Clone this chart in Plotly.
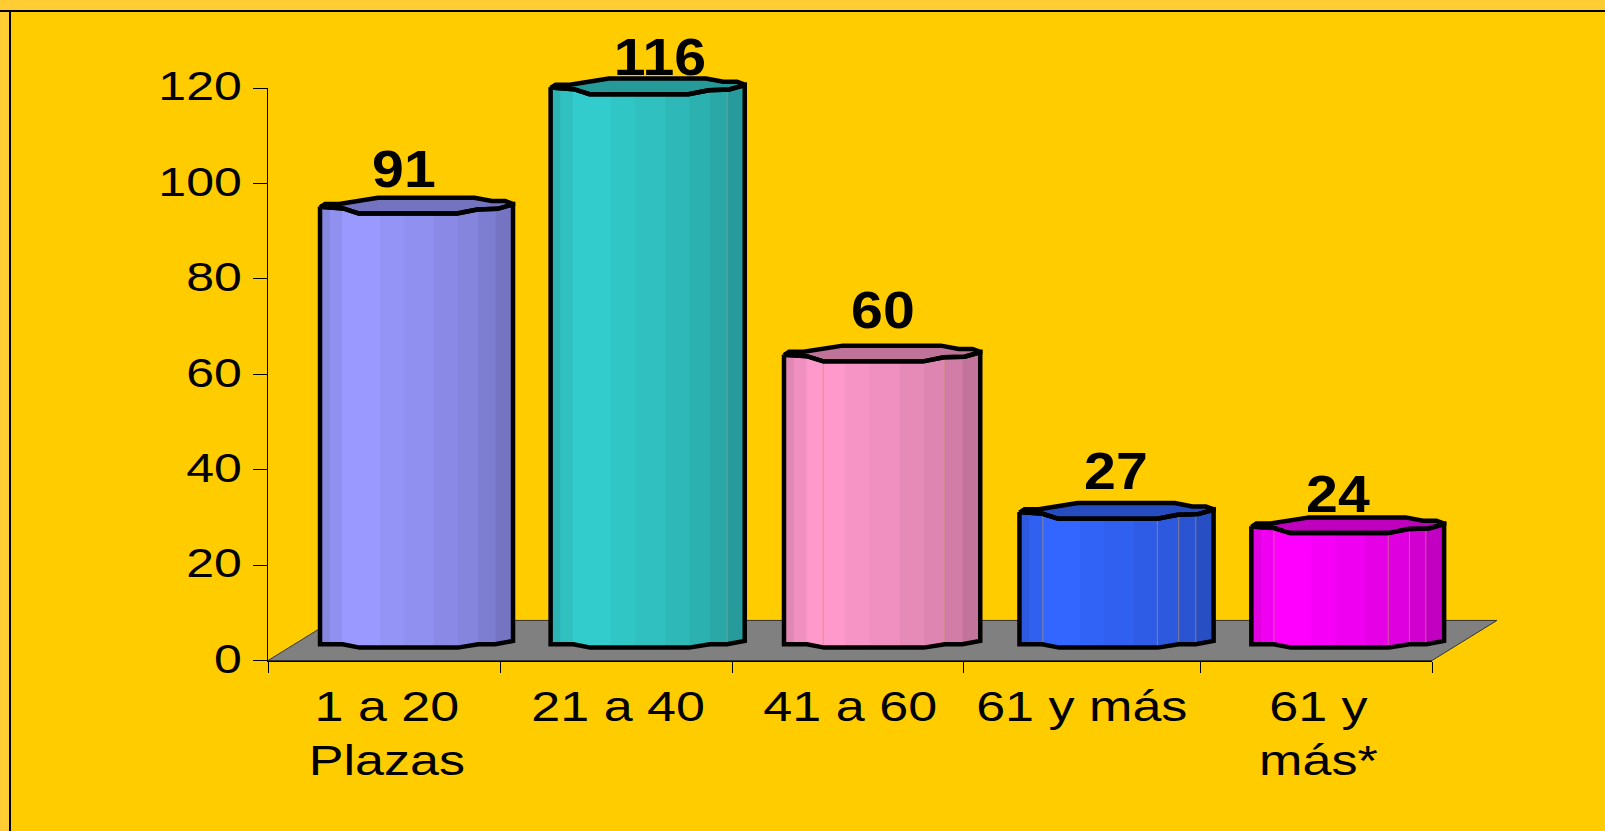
import numpy as np
import plotly.graph_objects as go

# ---- data ----
categories = ["1 a 20<br>Plazas", "21 a 40", "41 a 60", "61 y más", "61 y<br>más*"]
values = [91, 116, 60, 27, 24]
value_labels = ["91", "116", "60", "27", "24"]
y_ticks = [0, 20, 40, 60, 80, 100, 120]
tick_edges = [0, 0.997, 1.995, 2.987, 4.004, 5]
colors = ["#9999FF", "#33CCCC", "#FF99CC", "#3366FF", "#FF00FF"]
bar_centers = [0.638, 1.631, 2.638, 3.645, 4.638]
bar_widths = [0.829, 0.834, 0.843, 0.834, 0.828]
label_x = [0.584, 1.682, 2.64, 3.644, 4.597]
label_gap = [5.5, 3.9, 6.9, 6.2, 4.5]
label_nudge = [0.012, 0.008, 0.01, 0, 0.01]
seams = [[], [0.91], [0.2, 0.82], [0.12, 0.71, 0.82, 0.908], [0.117, 0.71, 0.82, 0.905]]

# ---- cylinder profile (fractions of bar width, offsets in axis units) ----
LIFT = 2.7
strip_edges = [0, .05, .115, .31, .435, .59, .715, .82, .91]
strip_shade = [.88, .94, 1, .97, .94, .90, .87, .82, .76]
front_x = [0, .12, .2, .71, .815, .92, 1]
front_dy = [1.4, 1.05, 0, 0, .84, .98, 1.9]
back_x = [0, .026, .1, .3, .8, .89, .96, 1]
back_dy = [1.3, 2.0, 2.0, 3.3, 3.3, 2.6, 2.6, 2.0]
base_x = [0, .117, .205, .713, .82, .908, 1]
base_dy = [.7, .7, 0, 0, .7, .7, 1.4]
FLOOR_DX, FLOOR_DY = 0.279, 8.4

# page layout of the axes, in pixels
W, H = 1605, 831
X0_PX, X5_PX, Y0_PX, Y120_PX = 268, 1432, 660.5, 88
SLOT = (X5_PX - X0_PX) / 5
UNIT = (Y0_PX - Y120_PX) / 120


def shade(hex_color, k):
    r, g, b = [int(hex_color[i:i + 2], 16) for i in (1, 3, 5)]
    return f"rgb({r * k:.0f},{g * k:.0f},{b * k:.0f})"


fig = go.Figure()


def poly(x, y, fill=None, line=None, width=0):
    x, y = list(x) + [x[0]], list(y) + [y[0]]
    fig.add_trace(go.Scatter(
        x=x, y=y, mode="lines" if width else "none",
        fill="toself" if fill else None, fillcolor=fill,
        line=dict(color=line or "rgba(0,0,0,0)", width=width, shape="linear", simplify=False),
        hoverinfo="skip", showlegend=False))


# floor
xmax = tick_edges[-1]
poly([0, FLOOR_DX, xmax + FLOOR_DX, xmax], [0, FLOOR_DY, FLOOR_DY, 0],
     fill="#808080", line="#333333", width=1)

# cylinders
for val, col, cx, w, seam in zip(values, colors, bar_centers, bar_widths, seams):
    left = cx - w / 2
    top = val + LIFT
    for a, k in zip(strip_edges, strip_shade):
        # each strip runs to the right edge and is over-painted by the next one
        fr = np.unique(np.array([a, 1.0] + [f for f in front_x + base_x if f > a]))
        ytop = top + np.interp(fr, front_x, front_dy)
        ybot = LIFT + np.interp(fr, base_x, base_dy)
        poly(np.r_[left + w * fr, left + w * fr[::-1]], np.r_[ytop, ybot[::-1]], fill=shade(col, k))
    for s in seam:
        fig.add_trace(go.Scatter(
            x=[left + w * s] * 2,
            y=[top + float(np.interp(s, front_x, front_dy)), LIFT + float(np.interp(s, base_x, base_dy))],
            mode="lines", line=dict(color="rgba(190,150,90,0.6)", width=1),
            hoverinfo="skip", showlegend=False))
    cap_x = [left + w * f for f in front_x] + [left + w * f for f in back_x[::-1]]
    cap_y = [top + d for d in front_dy] + [top + d for d in back_dy[::-1]]
    poly(cap_x, cap_y, fill=shade(col, .75), line="#000000", width=4.5)
    body_x = [left + w * f for f in front_x] + [left + w * f for f in base_x[::-1]]
    body_y = [top + d for d in front_dy] + [LIFT + d for d in base_dy[::-1]]
    poly(body_x, body_y, line="#000000", width=4.5)

label_pos = [(tick_edges[i] + tick_edges[i + 1]) / 2 + label_nudge[i] for i in range(5)]

# carries the visible axes
fig.add_trace(go.Scatter(x=bar_centers, y=values, xaxis="x2", yaxis="y2", mode="none",
                         hoverinfo="skip", showlegend=False))

annotations = [
    dict(x=lx, y=v + g, xref="x", yref="y", text=f"<b>{t}</b>", showarrow=False,
         xanchor="center", yanchor="bottom",
         font=dict(family="Liberation Sans", size=52, color="#000000"))
    for lx, v, g, t in zip(label_x, values, label_gap, value_labels)
]


def band(x0, y0, x1, y1, color):
    return dict(type="rect", xref="paper", yref="paper", x0=x0 / W, x1=x1 / W,
                y0=1 - y1 / H, y1=1 - y0 / H, fillcolor=color, line_width=0, layer="above")


shapes = [band(0, 0, W, 10, "#FFCC33"), band(0, 0, 9, H, "#FFCC33"),
          band(0, 10, W, 12, "#000000"), band(9, 10, 11, H, "#000000")]

fig.update_layout(
    width=W, height=H,
    margin=dict(l=0, r=0, t=0, b=0, autoexpand=False),
    paper_bgcolor="#FFCC00", plot_bgcolor="rgba(0,0,0,0)",
    showlegend=False, annotations=annotations, shapes=shapes,
    font=dict(family="Liberation Sans", color="#000000", size=41),
    # full-page axes for the marks, same scale as the visible axes
    xaxis=dict(domain=[0, 1], visible=False, range=[-X0_PX / SLOT, (W - X0_PX) / SLOT], fixedrange=True),
    yaxis=dict(domain=[0, 1], visible=False, range=[-(H - Y0_PX) / UNIT, Y0_PX / UNIT], fixedrange=True),
    xaxis2=dict(domain=[X0_PX / W, X5_PX / W], anchor="y2", range=[0, xmax],
                showgrid=False, zeroline=False, showline=True,
                linecolor="#000000", linewidth=1, ticks="", ticklen=0,
                tickmode="array", tickvals=label_pos, ticktext=categories, tickangle=0,
                ticklabelstandoff=9,
                minor=dict(tickmode="array", tickvals=tick_edges, ticks="outside",
                           ticklen=11, tickwidth=1, tickcolor="#000000", showgrid=False),
                tickfont=dict(family="Liberation Sans", size=42, color="#000000")),
    yaxis2=dict(domain=[1 - Y0_PX / H, 1 - Y120_PX / H], anchor="x2", range=[0, 120],
                showgrid=False, zeroline=False, showline=True,
                linecolor="#000000", linewidth=1, ticks="outside", ticklen=14,
                tickwidth=1, tickcolor="#000000",
                tickmode="array", tickvals=y_ticks, ticktext=[str(t) for t in y_ticks],
                ticklabelstandoff=3,
                tickfont=dict(family="Liberation Sans", size=41, color="#000000")),
)

post = """
document.body.style.margin = '0';
document.documentElement.style.overflow = 'hidden';
var gd = document.getElementById('{plot_id}');
function widen() {
  function scale(sel, s, dy) {
    gd.querySelectorAll(sel).forEach(function (t) {
      if (t.getAttribute('data-w')) return;
      var b = t.getBBox();
      var cx = b.x + b.width / 2;
      if (t.closest('.y2tick')) cx = b.x + b.width;
      var old = t.getAttribute('transform') || '';
      t.setAttribute('transform', old + ' translate(' + cx + ',' + dy + ') scale(' + s + ',1) translate(' + (-cx) + ',0)');
      t.setAttribute('data-w', '1');
    });
  }
  scale('.x2tick text', 1.24, 0);
  scale('.y2tick text', 1.22, -2);
  scale('.annotation-text', 1.1, 0);
}
setTimeout(widen, 30);
"""
fig.write_html("out.html", post_script=post, config=dict(displayModeBar=False, responsive=False))
